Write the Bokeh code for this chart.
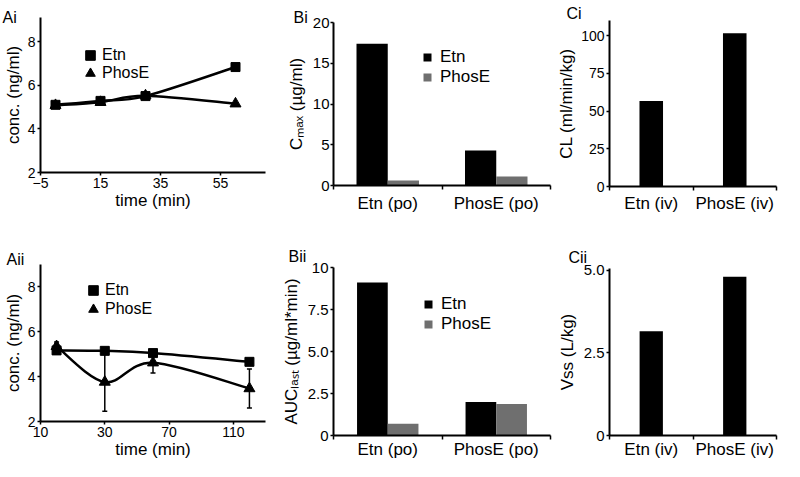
import numpy as np
from bokeh.plotting import figure
from bokeh.layouts import row, column
from bokeh.models import (FixedTicker, Legend, LegendItem, Whisker, TeeHead,
                          ColumnDataSource, Range1d)
from bokeh.embed import file_html
from bokeh.resources import INLINE

FONT = "Liberation Sans"

# ---------------- data ----------------
ai_time = [0, 15, 30, 60]
ai_etn = [5.1, 5.28, 5.5, 6.83]
ai_etn_err = [0, 0, 0, 0]
ai_phos = [5.08, 5.22, 5.52, 5.15]
ai_phos_err = [0, 0, 0.15, 0]
ai_xticks = [-5, 15, 35, 55]
ai_yticks = [2, 4, 6, 8]

aii_time = [0, 30, 60, 120]
aii_etn = [5.17, 5.15, 5.05, 4.66]
aii_etn_err = [0, 0, 0, 0]
aii_phos = [5.35, 3.76, 4.62, 3.47]
aii_phos_err = [0.2, 1.3, 0.46, 0.87]
aii_xticks = [-10, 30, 70, 110]
aii_xtick_labels = ["10", "30", "70", "110"]
aii_yticks = [2, 4, 6, 8]

b_categories = ["Etn (po)", "PhosE (po)"]
bi_etn = [17.4, 4.3]
bi_phos = [0.6, 1.1]
bi_yticks = [0, 5, 10, 15, 20]

bii_etn = [9.1, 2.0]
bii_phos = [0.7, 1.87]
bii_yticks = [0, 2.5, 5, 7.5, 10]
bii_ytick_labels = ["0", "2.5", "5.0", "7.5", "10"]

c_categories = ["Etn (iv)", "PhosE (iv)"]
ci_cl = [56.6, 101.5]
ci_yticks = [0, 25, 50, 75, 100]

cii_vss = [3.15, 4.8]
cii_yticks = [0, 2.5, 5]
cii_ytick_labels = ["0", "2.5", "5.0"]

GRAY = "#6f6f6f"


def make_fig(w, h, l, r, t, b, xr, yr, title, title_x, standoff):
    p = figure(width=w, height=h, min_border_left=l, min_border_right=r,
               min_border_top=t, min_border_bottom=b, x_range=xr, y_range=yr,
               output_backend="svg", toolbar_location=None, title=title)
    p.title.align = "left"
    p.title.offset = title_x - l
    p.title.standoff = standoff
    p.title.text_font = FONT
    p.title.text_font_size = "16px"
    p.title.text_font_style = "normal"
    p.title.text_color = "black"
    p.outline_line_color = None
    p.grid.visible = False
    p.background_fill_color = "white"
    p.border_fill_color = "white"
    for ax in (p.xaxis[0], p.yaxis[0]):
        ax.axis_line_width = 2
        ax.axis_line_color = "black"
        ax.major_tick_line_color = "black"
        ax.major_tick_line_width = 1.5
        ax.major_tick_in = 0
        ax.major_tick_out = 3
        ax.minor_tick_line_color = None
        ax.major_label_text_font = FONT
        ax.major_label_text_color = "black"
        ax.axis_label_text_font = FONT
        ax.axis_label_text_font_style = "normal"
        ax.axis_label_text_color = "black"
    return p


def smooth(xs, ys):
    n = len(xs)
    out = dict(x0=[], y0=[], x1=[], y1=[], cx0=[], cy0=[], cx1=[], cy1=[])
    for i in range(n - 1):
        xp, yp = (xs[i - 1], ys[i - 1]) if i > 0 else (xs[i], ys[i])
        xn, yn = (xs[i + 2], ys[i + 2]) if i + 2 < n else (xs[i + 1], ys[i + 1])
        out["x0"].append(xs[i]); out["y0"].append(ys[i])
        out["x1"].append(xs[i + 1]); out["y1"].append(ys[i + 1])
        out["cx0"].append(xs[i] + (xs[i + 1] - xp) / 6)
        out["cy0"].append(ys[i] + (ys[i + 1] - yp) / 6)
        out["cx1"].append(xs[i + 1] - (xn - xs[i]) / 6)
        out["cy1"].append(ys[i + 1] - (yn - ys[i]) / 6)
    return out


def one_legend(p, label, renderer, x, y):
    p.add_layout(Legend(items=[LegendItem(label=label, renderers=[renderer])],
                        location=(x, y), orientation="vertical",
                        glyph_width=24, glyph_height=24, label_height=19, spacing=0,
                        label_standoff=0, padding=0, margin=0,
                        border_line_color=None, background_fill_alpha=0,
                        label_text_font=FONT, label_text_font_size="16px",
                        label_text_color="black"))


def line_panel(p, t, etn, etn_err, phos, phos_err, leg_x, leg_y1, leg_y2):
    for ys in (etn, phos):
        p.bezier(source=ColumnDataSource(smooth(t, ys)), x0="x0", y0="y0", x1="x1", y1="y1",
                 cx0="cx0", cy0="cy0", cx1="cx1", cy1="cy1",
                 line_color="black", line_width=2.5, line_cap="round")
    for ys, err in ((etn, etn_err), (phos, phos_err)):
        src = ColumnDataSource(dict(t=t, lo=[y - e for y, e in zip(ys, err)],
                                    hi=[y + e for y, e in zip(ys, err)]))
        p.add_layout(Whisker(source=src, base="t", lower="lo", upper="hi",
                             line_color="black", line_width=1.5,
                             upper_head=TeeHead(size=5, line_width=1.5, line_color="black"),
                             lower_head=TeeHead(size=5, line_width=1.5, line_color="black")))
    r1 = p.scatter(t, etn, marker="square", size=9, color="black")
    r2 = p.scatter(t, phos, marker="triangle", size=11, color="black")
    one_legend(p, "Etn", r1, leg_x, leg_y1)
    one_legend(p, "PhosE", r2, leg_x, leg_y2)


# ---------------- Ai ----------------
W, H, L, R, T, B = 278, 227, 38, 7, 17, 55
ai = make_fig(W, H, L, R, T, B, Range1d(-5, 70), Range1d(2, 9.1), "Ai", 0, -17)
line_panel(ai, ai_time, ai_etn, ai_etn_err, ai_phos, ai_phos_err, 38, 105, 87)
ai.xaxis.ticker = FixedTicker(ticks=ai_xticks)
ai.yaxis.ticker = FixedTicker(ticks=ai_yticks)
ai.xaxis.axis_label = "time (min)"
ai.yaxis.axis_label = "conc. (ng/ml)"
for ax in (ai.xaxis[0], ai.yaxis[0]):
    ax.major_label_text_font_size = "14px"
    ax.axis_label_text_font_size = "17px"
    ax.major_label_standoff = 2
    ax.axis_label_standoff = 2
ai.xaxis.axis_label_standoff = 0

# ---------------- Aii ----------------
W, H, L, R, T, B = 278, 234, 37, 13, 37, 39
aii = make_fig(W, H, L, R, T, B, Range1d(-10, 130), Range1d(2, 9.0), "Aii", 3, -7)
line_panel(aii, aii_time, aii_etn, aii_etn_err, aii_phos, aii_phos_err, 41, 119, 100)
aii.xaxis.ticker = FixedTicker(ticks=aii_xticks)
aii.xaxis.major_label_overrides = {k: v for k, v in zip(aii_xticks, aii_xtick_labels)}
aii.yaxis.ticker = FixedTicker(ticks=aii_yticks)
aii.xaxis.axis_label = "time (min)"
aii.yaxis.axis_label = "conc. (ng/ml)"
for ax in (aii.xaxis[0], aii.yaxis[0]):
    ax.major_label_text_font_size = "14px"
    ax.axis_label_text_font_size = "17px"
    ax.major_label_standoff = 2
    ax.axis_label_standoff = 2
aii.xaxis.axis_label_standoff = 0


def bar_panel(p, cats, series, colors, frac, names=None, leg=None, label_standoff=4, font="15px"):
    n = len(cats)
    centers = np.arange(n) + 0.5
    k = len(series)
    renderers = []
    for j, (vals, col) in enumerate(zip(series, colors)):
        off = (j - (k - 1) / 2) * frac
        renderers.append(p.vbar(x=centers + off, top=vals, width=frac, bottom=0,
                                fill_color=col, line_color=None))
    p.xaxis.ticker = FixedTicker(ticks=list(centers), minor_ticks=list(range(n + 1)))
    p.xaxis.major_label_overrides = {float(c): cat for c, cat in zip(centers, cats)}
    p.xaxis.major_tick_line_color = None
    p.xaxis.major_tick_out = 0
    p.xaxis.minor_tick_line_color = "black"
    p.xaxis.minor_tick_line_width = 1.5
    p.xaxis.minor_tick_in = 0
    p.xaxis.minor_tick_out = 4
    p.xaxis.major_label_text_font_size = "17px"
    p.xaxis.major_label_standoff = label_standoff
    p.yaxis.major_label_text_font_size = font
    p.yaxis.axis_label_text_font_size = "17px"
    if names is not None:
        lx, ly, st = leg
        lg = Legend(items=[LegendItem(label=nm, renderers=[r]) for nm, r in zip(names, renderers)],
                    location=(lx, ly), orientation="vertical",
                    glyph_width=10, glyph_height=10, label_height=19, spacing=0,
                    label_standoff=st, padding=0, margin=0,
                    border_line_color=None, background_fill_alpha=0,
                    label_text_font=FONT, label_text_font_size="17px", label_text_color="black")
        p.add_layout(lg)
    return renderers


# ---------------- Bi ----------------
W, H, L, R, T, B = 274, 227, 48, 2, 22, 42
bi = make_fig(W, H, L, R, T, B, Range1d(0, len(b_categories)), Range1d(0, 20), "Bi", 8, -7)
bar_panel(bi, b_categories, [bi_etn, bi_phos], ["black", GRAY], 0.288,
          names=["Etn", "PhosE"], leg=(89, 98, 8), label_standoff=4)
bi.yaxis.ticker = FixedTicker(ticks=bi_yticks)
bi.yaxis.axis_label = "Cₘₐₓ (µg/ml)"
bi.yaxis.major_label_standoff = 1
bi.yaxis.axis_label_standoff = 4

# ---------------- Bii ----------------
W, H, L, R, T, B = 274, 234, 53, 2, 40, 24
bii = make_fig(W, H, L, R, T, B, Range1d(0, len(b_categories)), Range1d(0, 10), "Bii", 8, 5)
bar_panel(bii, b_categories, [bii_etn, bii_phos], ["black", GRAY], 0.283,
          names=["Etn", "PhosE"], leg=(90, 101, 8), label_standoff=0)
bii.yaxis.ticker = FixedTicker(ticks=bii_yticks)
bii.yaxis.major_label_overrides = {k: v for k, v in zip(bii_yticks, bii_ytick_labels)}
bii.yaxis.axis_label = "AUCₗₐₛₜ (µg/ml*min)"
bii.yaxis.major_label_standoff = 2
bii.yaxis.axis_label_standoff = 4

# ---------------- Ci ----------------
W, H, L, R, T, B = 232, 227, 57, 8, 20, 41
ci = make_fig(W, H, L, R, T, B, Range1d(0, len(c_categories)), Range1d(0, 110), "Ci", 14, -2)
bar_panel(ci, c_categories, [ci_cl], ["black"], 0.282, label_standoff=3, font="14px")
ci.yaxis.ticker = FixedTicker(ticks=ci_yticks)
ci.yaxis.axis_label = "CL (ml/min/kg)"
ci.yaxis.major_label_standoff = 2
ci.yaxis.axis_label_standoff = 2

# ---------------- Cii ----------------
W, H, L, R, T, B = 232, 234, 57, 8, 41, 25
cii = make_fig(W, H, L, R, T, B, Range1d(0, len(c_categories)), Range1d(0, 5.05), "Cii", 16, 6)
bar_panel(cii, c_categories, [cii_vss], ["black"], 0.279, label_standoff=0, font="15px")
cii.yaxis.ticker = FixedTicker(ticks=cii_yticks)
cii.yaxis.major_label_overrides = {k: v for k, v in zip(cii_yticks, cii_ytick_labels)}
cii.yaxis.axis_label = "Vss (L/kg)"
cii.yaxis.major_label_standoff = 2
cii.yaxis.axis_label_standoff = 4

layout = row(column(ai, aii), column(bi, bii), column(ci, cii))
open("out.html", "w").write(file_html(layout, INLINE))
